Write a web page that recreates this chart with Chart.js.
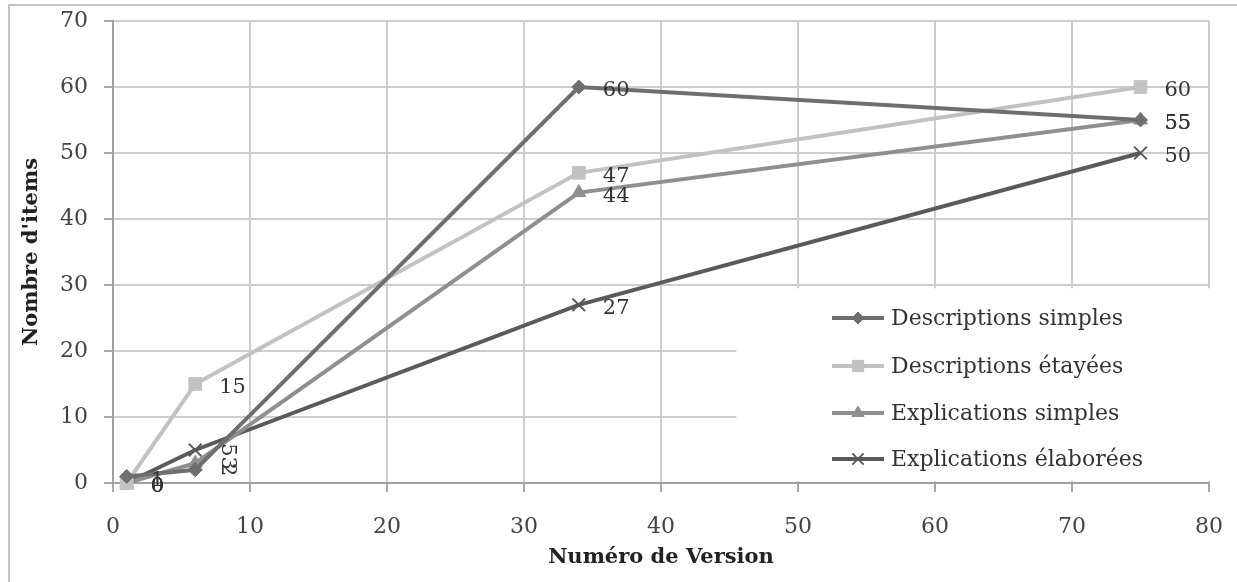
<!DOCTYPE html>
<html>
<head>
<meta charset="utf-8">
<script src="https://cdn.jsdelivr.net/npm/chart.js@4.4.1/dist/chart.umd.min.js"></script>
<style>
  html, body { margin: 0; padding: 0; background: #fff; }
  #wrap { position: relative; width: 1237px; height: 582px; overflow: hidden; }
  #frame { position: absolute; left: 8px; top: 4px; width: 1260px; height: 600px;
           border: 2px solid #c4c4c4; box-sizing: border-box; pointer-events: none; }
  canvas { position: absolute; left: 0; top: 0; }
</style>
</head>
<body>
<div id="wrap">
  <canvas id="c" width="1237" height="582"></canvas>
  <div id="frame"></div>
</div>
<script>
// Versions and item counts per category
const versions = [1, 6, 34, 75];
const descriptionsSimples = [1, 2, 60, 55];
const descriptionsEtayees = [0, 15, 47, 60];
const explicationsSimples = [0, 3, 44, 55];
const explicationsElaborees = [0, 5, 27, 50];
const seriesNames = ['Descriptions simples', 'Descriptions étayées', 'Explications simples', 'Explications élaborées'];
const yTicks = [0, 10, 20, 30, 40, 50, 60, 70];
const xTicks = [0, 10, 20, 30, 40, 50, 60, 70, 80];

const SERIF = '"DejaVu Serif", "Liberation Serif", serif';

const colors = ['#6e6e6e', '#c2c2c2', '#8f8f8f', '#5a5a5a'];
const markers = [
  { style: 'rectRot', radius: 7, border: 1 },
  { style: 'rect', radius: 9, border: 1 },
  { style: 'triangle', radius: 8, border: 1 },
  { style: 'crossRot', radius: 9, border: 2 }
];
const allValues = [descriptionsSimples, descriptionsEtayees, explicationsSimples, explicationsElaborees];
// value labels at version 6 are printed sideways in these series
const sidewaysAt6 = [true, false, true, true];

const datasets = allValues.map((vals, s) => ({
  label: seriesNames[s],
  data: versions.map((v, i) => ({ x: v, y: vals[i] })),
  borderColor: colors[s],
  backgroundColor: colors[s],
  borderWidth: 4,
  pointStyle: markers[s].style,
  pointRadius: markers[s].radius,
  pointBorderWidth: markers[s].border,
  pointBackgroundColor: colors[s],
  pointBorderColor: colors[s],
  showLine: true,
  tension: 0,
  clip: false
}));

// Legend box with a white background placed inside the plot area
const legendBox = {
  id: 'legendBox',
  afterDatasetsDraw(chart) {
    const ctx = chart.ctx;
    const xs = chart.scales.x, ys = chart.scales.y;
    const left = xs.getPixelForValue(45.5);
    const right = chart.chartArea.right + 3;
    const top = ys.getPixelForValue(29.5);
    const bottom = chart.chartArea.bottom - 2;
    ctx.save();
    ctx.fillStyle = '#ffffff';
    ctx.fillRect(left, top, right - left, bottom - top);
    const rowY = [318, 366, 413, 459];
    chart.data.datasets.forEach((ds, s) => {
      const y = rowY[s];
      ctx.strokeStyle = ds.borderColor;
      ctx.lineWidth = 4;
      ctx.beginPath();
      ctx.moveTo(832, y);
      ctx.lineTo(884, y);
      ctx.stroke();
      ctx.fillStyle = ds.backgroundColor;
      ctx.lineWidth = ds.pointBorderWidth;
      Chart.helpers.drawPoint(ctx, { pointStyle: ds.pointStyle, radius: ds.pointRadius - 1, borderWidth: ds.pointBorderWidth }, 858, y);
      ctx.fillStyle = '#333333';
      ctx.font = '22px ' + SERIF;
      ctx.textAlign = 'left';
      ctx.textBaseline = 'middle';
      ctx.fillText(ds.label, 891, y + 1);
    });
    ctx.restore();
  }
};

// Value labels to the right of every point
const valueLabels = {
  id: 'valueLabels',
  afterDatasetsDraw(chart) {
    const ctx = chart.ctx;
    ctx.save();
    ctx.font = '21px ' + SERIF;
    ctx.fillStyle = '#333333';
    chart.data.datasets.forEach((ds, s) => {
      const meta = chart.getDatasetMeta(s);
      meta.data.forEach((pt, i) => {
        const txt = String(ds.data[i].y);
        if (ds.data[i].x === 6 && sidewaysAt6[s]) {
          ctx.save();
          ctx.translate(pt.x + 32, pt.y);
          ctx.rotate(Math.PI / 2);
          ctx.textAlign = 'center';
          ctx.textBaseline = 'middle';
          ctx.fillText(txt, 0, 0);
          ctx.restore();
        } else {
          ctx.textAlign = 'left';
          ctx.textBaseline = 'middle';
          ctx.fillText(txt, pt.x + 24, pt.y + 4);
        }
      });
    });
    ctx.restore();
  }
};

new Chart(document.getElementById('c'), {
  type: 'scatter',
  data: { datasets },
  options: {
    responsive: false,
    animation: false,
    layout: { padding: { left: 0, right: 28, top: 21, bottom: 0 } },
    plugins: { legend: { display: false }, tooltip: { enabled: false } },
    scales: {
      x: {
        type: 'linear',
        min: 0, max: 80,
        afterBuildTicks(scale) { scale.ticks = xTicks.map(v => ({ value: v })); },
        afterFit(scale) { scale.height = 99; scale.paddingLeft = 0; scale.paddingRight = 0; },
        grid: { color: '#cdcdcd', lineWidth: 2, tickLength: 9, tickColor: '#a8a8a8' },
        border: { color: '#a0a0a0', width: 2 },
        ticks: { color: '#444', font: { family: SERIF, size: 22 }, padding: 22, maxRotation: 0 },
        title: { display: true, text: 'Numéro de Version', color: '#222',
                 font: { family: SERIF, size: 21, weight: 'bold' }, padding: { top: 0, bottom: 12 } }
      },
      y: {
        type: 'linear',
        min: 0, max: 70,
        afterBuildTicks(scale) { scale.ticks = yTicks.map(v => ({ value: v })); },
        afterFit(scale) { scale.width = 113; scale.paddingTop = 0; scale.paddingBottom = 0; },
        grid: { color: '#cdcdcd', lineWidth: 2, tickLength: 9, tickColor: '#a8a8a8' },
        border: { color: '#a0a0a0', width: 2 },
        ticks: { color: '#444', font: { family: SERIF, size: 22 }, padding: 16 },
        title: { display: true, text: "Nombre d'items", color: '#222',
                 font: { family: SERIF, size: 21, weight: 'bold' }, padding: { top: 19, bottom: 0 } }
      }
    }
  },
  plugins: [legendBox, valueLabels]
});
</script>
</body>
</html>
